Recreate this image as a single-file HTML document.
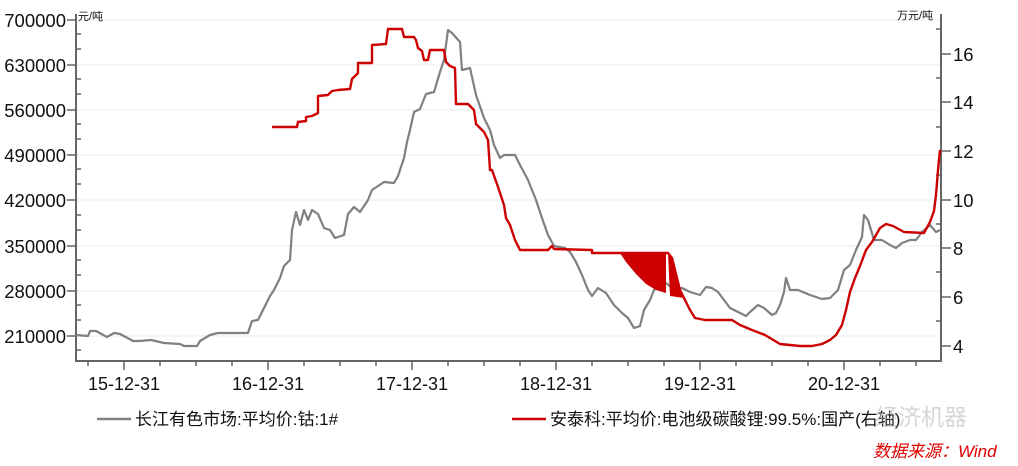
<!DOCTYPE html>
<html><head><meta charset="utf-8"><style>
body{margin:0;background:#fff;}
svg text{font-family:"Liberation Sans","Noto Sans CJK SC",sans-serif;}
</style></head><body>
<svg width="1018" height="461" xmlns="http://www.w3.org/2000/svg">
<g stroke="#ebebeb" stroke-width="1">
<line x1="77" x2="940" y1="20" y2="20"/><line x1="77" x2="940" y1="65" y2="65"/><line x1="77" x2="940" y1="110" y2="110"/><line x1="77" x2="940" y1="155" y2="155"/><line x1="77" x2="940" y1="200" y2="200"/><line x1="77" x2="940" y1="246" y2="246"/><line x1="77" x2="940" y1="291" y2="291"/><line x1="77" x2="940" y1="336" y2="336"/>
</g>
<g stroke="#666" stroke-width="2" fill="none">
<polyline points="76,14 76,361 941,361 941,14"/>
</g>
<g stroke="#666" stroke-width="1.5">
<line x1="67" x2="76" y1="20" y2="20"/><line x1="67" x2="76" y1="65" y2="65"/><line x1="67" x2="76" y1="110" y2="110"/><line x1="67" x2="76" y1="155" y2="155"/><line x1="67" x2="76" y1="200" y2="200"/><line x1="67" x2="76" y1="246" y2="246"/><line x1="67" x2="76" y1="291" y2="291"/><line x1="67" x2="76" y1="336" y2="336"/>
<line x1="76" x2="81" y1="34" y2="34"/><line x1="76" x2="81" y1="49" y2="49"/><line x1="76" x2="81" y1="79" y2="79"/><line x1="76" x2="81" y1="94" y2="94"/><line x1="76" x2="81" y1="124" y2="124"/><line x1="76" x2="81" y1="139" y2="139"/><line x1="76" x2="81" y1="169" y2="169"/><line x1="76" x2="81" y1="184" y2="184"/><line x1="76" x2="81" y1="215" y2="215"/><line x1="76" x2="81" y1="230" y2="230"/><line x1="76" x2="81" y1="260" y2="260"/><line x1="76" x2="81" y1="275" y2="275"/><line x1="76" x2="81" y1="305" y2="305"/><line x1="76" x2="81" y1="320" y2="320"/><line x1="76" x2="81" y1="350" y2="350"/>
<line x1="941" x2="951" y1="54" y2="54"/><line x1="941" x2="951" y1="102" y2="102"/><line x1="941" x2="951" y1="151" y2="151"/><line x1="941" x2="951" y1="200" y2="200"/><line x1="941" x2="951" y1="248" y2="248"/><line x1="941" x2="951" y1="297" y2="297"/><line x1="941" x2="951" y1="346" y2="346"/>
<line x1="936" x2="941" y1="29" y2="29"/><line x1="936" x2="941" y1="78" y2="78"/><line x1="936" x2="941" y1="127" y2="127"/><line x1="936" x2="941" y1="175" y2="175"/><line x1="936" x2="941" y1="224" y2="224"/><line x1="936" x2="941" y1="272" y2="272"/><line x1="936" x2="941" y1="321" y2="321"/>
<line x1="124" x2="124" y1="361" y2="370"/><line x1="268" x2="268" y1="361" y2="370"/><line x1="412" x2="412" y1="361" y2="370"/><line x1="556" x2="556" y1="361" y2="370"/><line x1="700" x2="700" y1="361" y2="370"/><line x1="844" x2="844" y1="361" y2="370"/>
<line x1="88" x2="88" y1="361" y2="366"/><line x1="160" x2="160" y1="361" y2="366"/><line x1="196" x2="196" y1="361" y2="366"/><line x1="232" x2="232" y1="361" y2="366"/><line x1="304" x2="304" y1="361" y2="366"/><line x1="340" x2="340" y1="361" y2="366"/><line x1="376" x2="376" y1="361" y2="366"/><line x1="448" x2="448" y1="361" y2="366"/><line x1="484" x2="484" y1="361" y2="366"/><line x1="520" x2="520" y1="361" y2="366"/><line x1="592" x2="592" y1="361" y2="366"/><line x1="628" x2="628" y1="361" y2="366"/><line x1="664" x2="664" y1="361" y2="366"/><line x1="736" x2="736" y1="361" y2="366"/><line x1="772" x2="772" y1="361" y2="366"/><line x1="808" x2="808" y1="361" y2="366"/><line x1="880" x2="880" y1="361" y2="366"/><line x1="916" x2="916" y1="361" y2="366"/>
</g>
<g font-size="18.5" fill="#111" text-anchor="end">
<text x="66" y="27">700000</text><text x="66" y="72">630000</text><text x="66" y="117">560000</text><text x="66" y="162">490000</text><text x="66" y="207">420000</text><text x="66" y="253">350000</text><text x="66" y="298">280000</text><text x="66" y="343">210000</text>
</g>
<g font-size="18.5" fill="#111">
<text x="953" y="61">16</text><text x="953" y="109">14</text><text x="953" y="158">12</text><text x="953" y="207">10</text><text x="953" y="255">8</text><text x="953" y="304">6</text><text x="953" y="353">4</text>
</g>
<g font-size="18" fill="#111" text-anchor="middle">
<text x="124" y="390">15-12-31</text><text x="268" y="390">16-12-31</text><text x="412" y="390">17-12-31</text><text x="556" y="390">18-12-31</text><text x="700" y="390">19-12-31</text><text x="844" y="390">20-12-31</text>
</g>
<text x="78" y="20" font-size="11" fill="#111">元/吨</text>
<text x="897" y="19" font-size="11" fill="#111">万元/吨</text>
<polyline fill="none" stroke="#808080" stroke-width="2.2" stroke-linejoin="round" points="76,335 88,336 90,331 96,331 107,337 114,333 120,334 133,341 140,341 151,340 164,343 180,344 184,346 197,346 200,341 210,335 218,333 248,333 252,321 258,320 264,308 270,296 274,290 280,278 284,266 290,260 292,230 296,212 300,225 304,210 308,220 312,210 318,214 324,228 330,230 335,238 344,235 348,214 354,207 360,212 368,200 372,190 378,186 384,182 394,183 398,176 404,158 407,142 410,130 414,112 420,109 426,94 434,92 440,72 444,60 448,30 452,33 460,42 462,70 470,68 476,95 484,118 490,130 494,145 500,158 504,155 515,155 520,165 528,180 536,200 542,218 548,235 554,246 565,248 570,252 576,262 582,275 588,290 592,296 598,288 606,293 614,305 622,313 628,318 634,328 640,326 644,310 650,300 654,290 660,285 666,283 672,288 676,290 682,288 690,292 700,295 706,287 712,288 718,292 724,300 730,308 736,311 746,316 750,312 758,305 764,308 772,315 776,313 780,305 784,292 786,278 790,290 798,290 810,295 822,299 830,298 838,290 844,270 850,265 856,250 862,237 864,215 868,220 874,240 882,240 890,245 896,248 902,243 910,240 916,240 922,232 930,225 936,232 940,230"/>
<polygon fill="#cc0000" points="620,253 666,253 666,293 656,290 646,284 636,274 626,262"/>
<polygon fill="#cc0000" points="668,253 672,258 680,290 684,298 670,296"/>
<polyline fill="none" stroke="#cc0000" stroke-width="2.4" stroke-linejoin="round" points="272,127 297,127 298,122 306,121 306,117 312,116 318,113 318,96 328,95 332,91 338,90 350,89 352,79 358,73 358,63 372,63 372,45 386,44 388,29 402,29 404,37 414,37 416,40 418,48 422,51 424,60 428,60 430,50 444,50 446,62 450,66 455,68 456,104 468,104 474,110 476,124 480,128 484,132 488,140 490,170 492,170 498,187 500,193 504,205 506,218 510,225 515,240 520,250 548,250 552,246 554,249 592,250 592,253 620,253 668,253 672,258 680,290 684,298 690,310 695,318 705,320 732,320 740,325 752,330 765,335 770,338 780,344 800,346 812,346 822,344 830,340 836,335 842,325 846,310 850,292 855,278 860,266 866,250 872,242 880,228 886,224 893,226 904,232 924,233 930,222 934,211 936,195 938,170 940,150"/>
<line x1="97" x2="131" y1="419" y2="419" stroke="#808080" stroke-width="2.5"/>
<text x="135" y="425" font-size="17" fill="#111">长江有色市场:平均价:钴:1#</text>
<line x1="512" x2="546" y1="419" y2="419" stroke="#cc0000" stroke-width="2.5"/>
<text x="550" y="425" font-size="17" fill="#111">安泰科:平均价:电池级碳酸锂:99.5%:国产(右轴)</text>
<text x="875" y="425" font-size="23" fill="#bbb" opacity="0.6">经济机器</text>
<text x="873" y="457" font-size="17" fill="#e00000" font-style="italic">数据来源：Wind</text>
</svg>
</body></html>
